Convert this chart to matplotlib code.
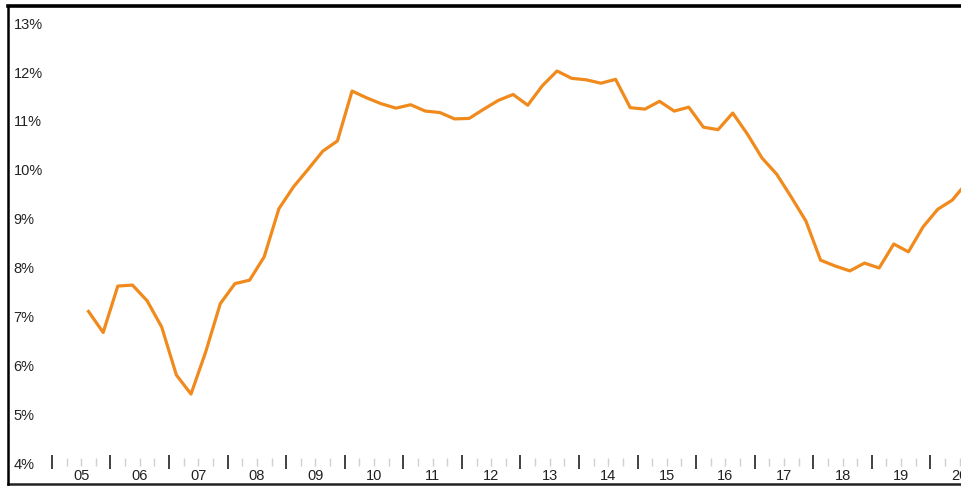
import matplotlib.pyplot as plt
import numpy as np

plt.rcParams['font.family'] = ['Liberation Sans', 'DejaVu Sans']

# quarterly series, first point = 2005 Q3
start_year = 2005.5
rate = [7.08, 6.65, 7.60, 7.62, 7.30, 6.76, 5.78, 5.39, 6.25, 7.24,
        7.65, 7.72, 8.20, 9.18, 9.63, 9.99, 10.36, 10.57, 11.59, 11.45,
        11.33, 11.24, 11.31, 11.18, 11.15, 11.02, 11.03, 11.22, 11.40, 11.52,
        11.30, 11.70, 12.00, 11.85, 11.82, 11.75, 11.83, 11.25, 11.22, 11.38,
        11.18, 11.26, 10.85, 10.80, 11.14, 10.71, 10.22, 9.89, 9.42, 8.93,
        8.13, 8.01, 7.91, 8.07, 7.97, 8.46, 8.30, 8.81, 9.17, 9.36,
        9.72]
years = list(range(2005, 2021))
year_labels = ['05', '06', '07', '08', '09', '10', '11', '12', '13', '14',
               '15', '16', '17', '18', '19', '20']
y_ticks = [4, 5, 6, 7, 8, 9, 10, 11, 12, 13]

# quarter midpoints
x = start_year + 0.125 + 0.25 * np.arange(len(rate))

fig = plt.figure(figsize=(9.62, 4.89), dpi=100)
ax = fig.add_axes([8 / 962, 4 / 489, 1 - 8 / 962, (485 - 7) / 489])

ax.plot(x, rate, color='#F08A1C', lw=2.3, solid_joinstyle='round', zorder=3)

ax.set_xlim(2004.25, 2020.54)
ax.set_ylim(3.55, 13.33)

# frame: thick top, left, bottom line; no right side
ax.spines['right'].set_visible(False)
ax.spines['top'].set_linewidth(2.6)
ax.spines['left'].set_linewidth(1.8)
ax.spines['bottom'].set_position(('data', 4.0))
ax.spines['bottom'].set_visible(False)
ax.plot([0, 1], [0, 0], transform=ax.transAxes, color='#222222', lw=1.8,
        clip_on=False)

# y labels drawn inside the frame
ax.set_yticks(y_ticks)
ax.set_yticklabels([f'{v}%' for v in y_ticks])
ax.tick_params(axis='y', length=0, pad=-4, labelsize=10.5, labelcolor='#222222')
for lab in ax.get_yticklabels():
    lab.set_horizontalalignment('left')

# x ticks: year boundaries dark, quarters faint
ax.set_xticks(years[:-1] + [2020])
ax.set_xticklabels([])
ax.set_xticks(np.arange(2005, 2020.6, 0.25), minor=True)
ax.tick_params(axis='x', which='major', direction='inout', length=9.5,
               width=1.3, color='#333333')
ax.tick_params(axis='x', which='minor', direction='inout', length=6,
               width=1.0, color='#d0d0d0')

for yr, lab in zip(years, year_labels):
    ax.text(yr + 0.5, 3.73, lab, ha='center', va='center', fontsize=10.5,
            color='#222222')

fig.savefig('out.png', dpi=100)
